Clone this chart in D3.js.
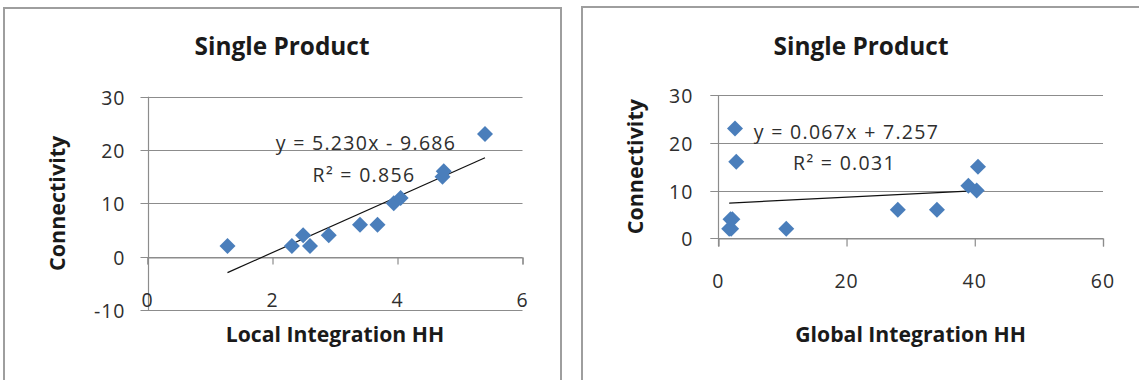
<!DOCTYPE html>
<html>
<head>
<meta charset="utf-8">
<script src="https://cdn.jsdelivr.net/npm/d3@7"></script>
<style>
  html, body { margin: 0; padding: 0; background: #fff; }
  svg { display: block; }
  text { font-family: "Open Sans", "Liberation Sans", sans-serif; }
</style>
</head>
<body>
<svg id="chart" width="1139" height="380"></svg>
<script>
// Single Product: connectivity against local / global integration (HH)
const connectivity = [2, 2, 4, 2, 4, 6, 6, 10, 11, 15, 16, 23];
const localIntegration = [1.28, 2.31, 2.49, 2.6, 2.9, 3.4, 3.68, 3.94, 4.05, 4.72, 4.74, 5.4];
const globalIntegration = [1.7, 2.0, 1.9, 10.6, 2.2, 28.0, 34.1, 40.3, 39.0, 40.5, 2.8, 2.6];

const localTicksX = [0, 2, 4, 6];
const localTicksY = [-10, 0, 10, 20, 30];
const globalTicksX = [0, 20, 40, 60];
const globalTicksY = [0, 10, 20, 30];

// linear trendline coefficients [slope, intercept] and R²
const localFit = [5.230, -9.686];
const localR2 = [0.856];
const globalFit = [0.067, 7.257];
const globalR2 = [0.031];

const chartTitles = ["Single Product", "Single Product"];
const xTitles = ["Local Integration HH", "Global Integration HH"];
const yTitle = "Connectivity";

const svg = d3.select("#chart");
const GRID = "#8c8c8c";
const POINT = "#4a7ebb";
const TEXT = "#2e2e2e";

function fmt(v) { return d3.format(".3f")(Math.abs(v)); }

function panel(cfg) {
  const g = svg.append("g");

  // chart frame
  g.append("rect")
    .attr("x", cfg.frame[0]).attr("y", cfg.frame[1])
    .attr("width", cfg.frame[2]).attr("height", cfg.frame[3])
    .attr("fill", "#fff").attr("stroke", "#9e9e9e").attr("stroke-width", 2);

  const x = d3.scaleLinear().domain(cfg.xDomain).range(cfg.xRange);
  const y = d3.scaleLinear().domain(cfg.yDomain).range(cfg.yRange);

  // horizontal gridlines
  g.append("g").selectAll("line").data(cfg.yTicks).join("line")
    .attr("x1", x(cfg.xDomain[0]) - cfg.tick).attr("x2", x(cfg.xDomain[1]))
    .attr("y1", d => Math.round(y(d)) + 0.5).attr("y2", d => Math.round(y(d)) + 0.5)
    .attr("stroke", GRID).attr("stroke-width", 1.2);

  // vertical value axis
  g.append("line")
    .attr("x1", Math.round(x(0)) + 0.5).attr("x2", Math.round(x(0)) + 0.5)
    .attr("y1", y(cfg.yDomain[1])).attr("y2", Math.max(y(cfg.yDomain[0]), y(0) + cfg.tick))
    .attr("stroke", GRID).attr("stroke-width", 1.2);

  // x axis crossing at y = 0, ticks pointing down
  const xAxis = d3.axisBottom(x).tickValues(cfg.xTicks).tickSize(cfg.tick).tickFormat("");
  const ax = g.append("g")
    .attr("transform", `translate(0,${Math.round(y(0)) + 0.5})`)
    .call(xAxis);
  ax.select(".domain").attr("stroke", GRID).attr("stroke-width", 1.2);
  ax.selectAll(".tick line").attr("stroke", GRID).attr("stroke-width", 1.2);

  // y tick labels
  g.append("g").selectAll("text").data(cfg.yTicks).join("text")
    .attr("x", x(cfg.xDomain[0]) - cfg.yLabelGap)
    .attr("y", d => y(d) + 8)
    .attr("text-anchor", "end")
    .attr("font-size", 19.5).attr("letter-spacing", 1)
    .attr("fill", TEXT)
    .text(d => d);

  // x tick labels, placed low
  g.append("g").selectAll("text").data(cfg.xTicks).join("text")
    .attr("x", d => x(d))
    .attr("y", cfg.xLabelY)
    .attr("text-anchor", "middle")
    .attr("font-size", 19.5).attr("letter-spacing", 1)
    .attr("fill", TEXT)
    .text(d => d);

  // trendline across the data range
  const xs = d3.extent(cfg.xs);
  const [m, b] = cfg.fit;
  g.append("line")
    .attr("x1", x(xs[0])).attr("y1", y(m * xs[0] + b))
    .attr("x2", x(xs[1])).attr("y2", y(m * xs[1] + b))
    .attr("stroke", "#111").attr("stroke-width", 1.2);

  // markers
  const diamond = d3.symbol().type(d3.symbolSquare).size(128);
  g.append("g").selectAll("path").data(cfg.xs.map((v, i) => [v, cfg.ys[i]])).join("path")
    .attr("d", diamond)
    .attr("transform", d => `translate(${x(d[0])},${y(d[1])}) rotate(45)`)
    .attr("fill", POINT);

  // equation label
  const eq = `y = ${d3.format(".3f")(m)}x ${b < 0 ? "-" : "+"} ${fmt(b)}`;
  g.append("text")
    .attr("x", cfg.eqPos[0]).attr("y", cfg.eqPos[1])
    .attr("text-anchor", "middle")
    .attr("font-size", 19.5).attr("letter-spacing", 1.3)
    .attr("fill", TEXT)
    .text(eq);
  g.append("text")
    .attr("x", cfg.eqPos[0] - 2).attr("y", cfg.eqPos[1] + 31.5)
    .attr("text-anchor", "middle")
    .attr("font-size", 19.5).attr("letter-spacing", 1.3)
    .attr("fill", TEXT)
    .text(`R² = ${d3.format(".3f")(cfg.r2[0])}`);

  // titles
  g.append("text")
    .attr("x", cfg.titlePos[0]).attr("y", cfg.titlePos[1])
    .attr("text-anchor", "middle")
    .attr("font-size", 24.4).attr("font-weight", "bold")
    .attr("fill", "#1a1a1a")
    .text(cfg.title);

  g.append("text")
    .attr("x", (cfg.xRange[0] + cfg.xRange[1]) / 2).attr("y", cfg.xTitleY)
    .attr("text-anchor", "middle")
    .attr("font-size", 21.2).attr("font-weight", "bold")
    .attr("fill", "#1a1a1a")
    .text(cfg.xTitle);

  const yc = (cfg.yRange[0] + cfg.yRange[1]) / 2;
  g.append("text")
    .attr("transform", `translate(${cfg.yTitleX},${yc}) rotate(-90)`)
    .attr("dy", "0.35em")
    .attr("text-anchor", "middle")
    .attr("font-size", 21.5).attr("font-weight", "bold")
    .attr("fill", "#1a1a1a")
    .text(yTitle);
}

panel({
  frame: [4, 8, 557, 400],
  xDomain: [0, 6], xRange: [147.5, 522.5],
  yDomain: [-10, 30], yRange: [310, 96.7],
  xTicks: localTicksX, yTicks: localTicksY,
  tick: 7, yLabelGap: 22, xLabelY: 307,
  xs: localIntegration, ys: connectivity,
  fit: localFit, r2: localR2,
  eqPos: [366, 150],
  title: chartTitles[0], titlePos: [282, 55],
  xTitle: xTitles[0], xTitleY: 342,
  yTitleX: 57
});

panel({
  frame: [582, 7, 600, 400],
  xDomain: [0, 60], xRange: [718.3, 1103],
  yDomain: [0, 30], yRange: [238.3, 95],
  xTicks: globalTicksX, yTicks: globalTicksY,
  tick: 8, yLabelGap: 25, xLabelY: 288,
  xs: globalIntegration, ys: connectivity,
  fit: globalFit, r2: globalR2,
  eqPos: [846.5, 138.5],
  title: chartTitles[1], titlePos: [861, 55],
  xTitle: xTitles[1], xTitleY: 342,
  yTitleX: 635
});
</script>
</body>
</html>
